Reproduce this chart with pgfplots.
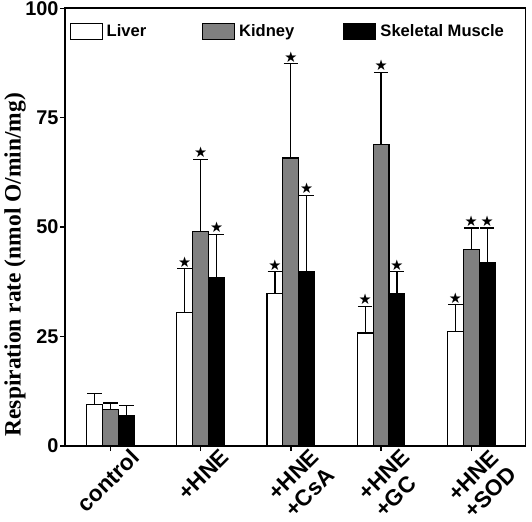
\documentclass[border=0pt]{standalone}
\usepackage{fontspec}
\setmainfont{Liberation Serif}
\setsansfont{Liberation Sans}
\newfontfamily\symb{DejaVu Sans}
\usepackage{pgfplots}
\pgfplotsset{compat=1.18}
\pgfplotsset{
  errplot/.style={only marks, mark=*, mark size=0pt, forget plot,
    error bars/y dir=plus, error bars/y explicit,
    error bars/error bar style={line width=0.9pt, black},
    error bars/error mark options={rotate=90, mark size=5.5pt, line width=0.9pt, black}},
  starplot/.style={only marks, mark=*, mark size=0pt, forget plot,
    nodes near coords={\symb\fontsize{11}{11}\selectfont ★},
    every node near coord/.style={anchor=south, inner sep=0.8pt, black}},
}
\begin{document}
\begin{tikzpicture}
\begin{axis}[
  scale only axis, width=347pt, height=330pt,
  xmin=-0.5, xmax=4.6, ymin=0, ymax=100,
  ytick={0,25,50,75,100},
  xtick={0,1,2,3,4},
  xticklabels={control,{+HNE},{+HNE\\+CsA},{+HNE\\+GC},{+HNE\\+SOD}},
  x tick label style={rotate=45, anchor=north east, align=left, xshift=13pt, yshift=-7pt,
    font=\sffamily\bfseries\fontsize{17}{18}\selectfont, inner sep=1pt},
  y tick label style={font=\sffamily\bfseries\fontsize{15}{15}\selectfont, inner sep=1pt},
  /pgf/number format/assume math mode=true,
  tick align=outside, tick pos=left, major tick length=4pt,
  every tick/.style={black, line width=1pt},
  axis line style={line width=1.3pt},
  ylabel={\bfseries Respiration rate (nmol O/min/mg)},
  ylabel style={font=\fontsize{17.7}{17.7}\selectfont, at={(ticklabel cs:0.414)}, yshift=-5pt},
  legend style={at={(0.0,0.975)}, anchor=north west, draw=none, fill=none,
    legend columns=3, font=\sffamily\bfseries\fontsize{12.5}{13}\selectfont,
    /tikz/column 2/.style={column sep=40pt},
    /tikz/column 4/.style={column sep=35pt},
    /tikz/every odd column/.append style={column sep=1pt}},
  legend image code/.code={\draw[#1, line width=0.8pt] (0cm,-0.21cm) rectangle (0.85cm,0.21cm);},
  clip=false,
  after end axis/.code={\path (rel axis cs:1,0) ++(5pt,0);},
]
\addplot[ybar, bar width=12pt, bar shift=-12pt, draw=black, fill=white, line width=0.8pt]
  coordinates {(0,9.4) (1,30.4) (2,34.8) (3,25.8) (4,26.2)};
\addlegendentry{Liver}
\addplot[ybar, bar width=12pt, bar shift=0pt, draw=black, fill=black!50, line width=0.8pt]
  coordinates {(0,8.3) (1,48.9) (2,65.8) (3,68.9) (4,44.8)};
\addlegendentry{Kidney}
\addplot[ybar, bar width=12pt, bar shift=12pt, draw=black, fill=black, line width=0.8pt]
  coordinates {(0,7.0) (1,38.4) (2,39.8) (3,34.9) (4,41.8)};
\addlegendentry{Skeletal Muscle}
% error bars (upper only)
\addplot[errplot] coordinates {(-0.1764,9.4) +- (0,2.5) (0.8236,30.4) +- (0,10.1) (1.8236,34.8) +- (0,5.0) (2.8236,25.8) +- (0,6.1) (3.8236,26.2) +- (0,6.1)};
\addplot[errplot] coordinates {(0,8.3) +- (0,1.5) (1,48.9) +- (0,16.6) (2,65.8) +- (0,21.6) (3,68.9) +- (0,16.5) (4,44.8) +- (0,5.0)};
\addplot[errplot] coordinates {(0.1764,7.0) +- (0,2.3) (1.1764,38.4) +- (0,10.0) (2.1764,39.8) +- (0,17.5) (3.1764,34.9) +- (0,4.9) (4.1764,41.8) +- (0,8.0)};
% significance stars
\addplot[starplot] coordinates {
   (0.8236,40.5) (1,65.5) (1.1764,48.4)
   (1.8236,39.8) (2,87.4) (2.1764,57.3)
   (2.8236,31.9) (3,85.4) (3.1764,39.8)
   (3.8236,32.3) (4,49.8) (4.1764,49.8)};
\end{axis}
\end{tikzpicture}
\end{document}
